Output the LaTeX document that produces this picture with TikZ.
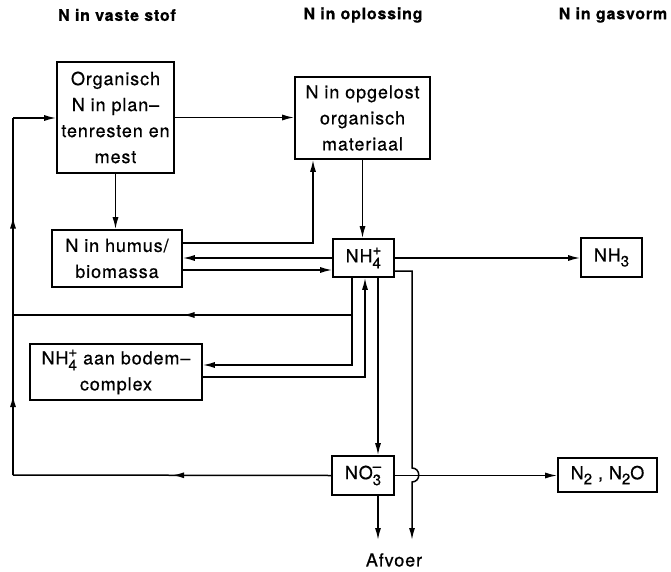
\documentclass[tikz,border=0pt]{standalone}
\usepackage{fontspec}
\setmainfont{TeX Gyre Heros}[LetterSpace=5,FakeBold=0.6]
\usetikzlibrary{arrows.meta,calc,decorations.markings}
\newcommand{\subsupx}[2]{\raisebox{-6pt}{\fontsize{15}{13}\selectfont\shortstack[l]{#2\\#1}}}
\newcommand{\subx}[1]{\raisebox{-5pt}{\fontsize{15}{15}\selectfont #1}}
\begin{document}
\begin{tikzpicture}[x=1pt,y=-1pt,
  font=\fontsize{18}{26}\selectfont,
  box/.style={draw, line width=1.6pt, inner sep=0pt, align=center},
  con/.style={line width=1.5pt},
  tip/.style={-{Latex[length=12pt,width=6pt]}},
  midarrow/.style={postaction={decorate}, decoration={markings, mark=at position 0.5 with {\arrow{Latex[length=12pt,width=6pt]}}}},
  head/.style={font=\fontsize{16}{20}\selectfont\bfseries}
]
\useasboundingbox (0,0) rectangle (671,572);

\node[head] (h1) at (117,15) {N in vaste stof};
\node[head] (h2) at (363,15) {N in oplossing};
\node[head] (h3) at (613,15) {N in gasvorm};

\node[box, minimum width=117pt, minimum height=111pt] (org) at (115.5,117.5) {Organisch\\N in plan--\\tenresten en\\mest};
\node[box, minimum width=135pt, minimum height=82pt] (opg) at (362.5,118) {N in opgelost\\organisch\\materiaal};
\node[box, minimum width=130pt, minimum height=57pt] (hum) at (117,258.5) {N in humus/\\biomassa};
\node[box, minimum width=61pt, minimum height=38pt] (nh4) at (363.5,258) {NH\subsupx{4}{+}};
\node[box, minimum width=61pt, minimum height=39pt] (nh3) at (611.5,257.5) {NH\subx{3}};
\node[box, minimum width=172pt, minimum height=56pt] (bod) at (116,372) {NH\subsupx{4}{+} aan bodem--\\complex};
\node[box, minimum width=62pt, minimum height=39pt] (no3) at (363,475.5) {NO\subsupx{3}{--}};
\node[box, minimum width=99pt, minimum height=34pt] (n2) at (607.5,475) {N\subx{2} , N\subx{2}O};
\node (afv) at (394,560) {Afvoer};

\coordinate (L1) at (13,475);
\coordinate (L2) at (13,118);
\coordinate (L3) at (13,315);
\coordinate (J) at (352,315);
\coordinate (A1) at (378,540);
\coordinate (A2) at (412,540);
\coordinate (H1) at (412,468);
\coordinate (H2) at (412,482);

\draw[con,tip] (org.east) -- (org.east -| opg.west);
\draw[con,tip] (org.south) -- (org.south |- hum.north);
\draw[con,tip] ($(hum.east)+(0,-15.5)$) -| ($(opg.south)+(-49.5,0)$);
\draw[con,tip] (nh4.west) -- (nh4.west -| hum.east);
\draw[con,tip] ($(hum.east)+(0,11.5)$) -- ($(nh4.west)+(0,12)$);
\draw[con,tip] (opg.south) -- (opg.south |- nh4.north);
\draw[con,tip] (nh4.east) -- (nh4.east -| nh3.west);
\draw[con,tip] ($(nh4.south)+(-11.5,0)$) |- ($(bod.east)+(0,-7)$);
\draw[con,midarrow] (J) -- (L3);
\draw[con,tip] ($(bod.east)+(0,5)$) -| ($(nh4.south)+(1.5,0)$);
\draw[con,tip] ($(nh4.south)+(14.5,0)$) -- ($(no3.north)+(15,0)$);
\draw[con,tip] ($(no3.south)+(15,0)$) -- (A1);
\draw[con,midarrow] (no3.west) -- (L1);
\draw[con,midarrow] (L1) -- (L3);
\draw[con,midarrow] (L3) -- (L2);
\draw[con,tip] (L2) -- (L2 -| org.west);
\draw[con,tip] (no3.east) -- (no3.east -| n2.west);
\draw[con,tip] ($(nh4.east)+(0,13)$) -| (H1) .. controls +(9,0) and +(9,0) .. (H2) -- (A2);
\end{tikzpicture}
\end{document}
